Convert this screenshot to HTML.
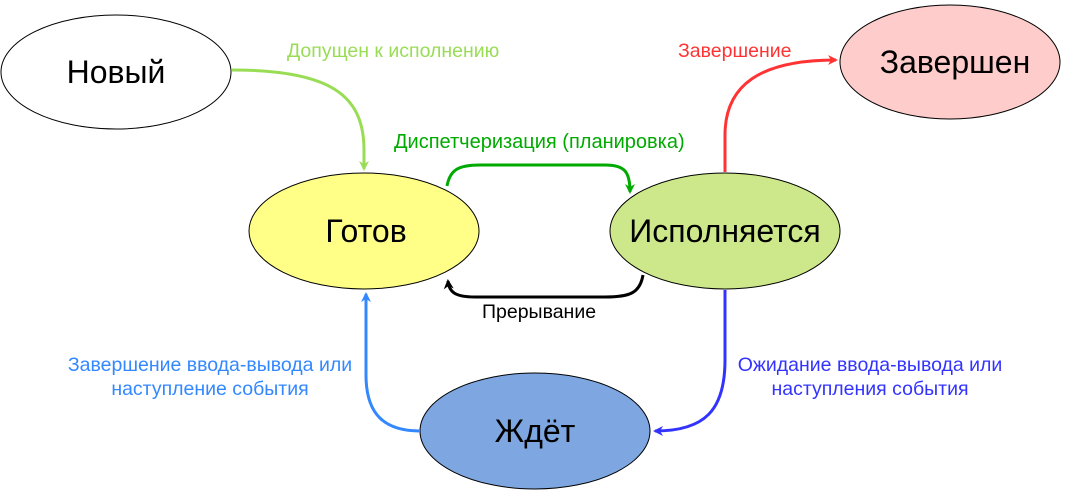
<!DOCTYPE html>
<html><head><meta charset="utf-8"><style>
html,body{margin:0;padding:0;background:#fff;}
svg{display:block;}
text{font-family:"Liberation Sans",sans-serif;}
</style></head><body>
<svg width="1071" height="491" viewBox="0 0 1071 491" xmlns="http://www.w3.org/2000/svg">
<defs>
<marker id="ag" markerWidth="10" markerHeight="10" refX="8" refY="5" orient="auto" markerUnits="userSpaceOnUse"><path d="M0,0 L10,5 L0,10 L3,5 z" fill="#99dd55"/></marker>
<marker id="ad" markerWidth="10" markerHeight="10" refX="8" refY="5" orient="auto" markerUnits="userSpaceOnUse"><path d="M0,0 L10,5 L0,10 L3,5 z" fill="#00aa00"/></marker>
<marker id="ak" markerWidth="10" markerHeight="10" refX="8" refY="5" orient="auto" markerUnits="userSpaceOnUse"><path d="M0,0 L10,5 L0,10 L3,5 z" fill="#000"/></marker>
<marker id="ar" markerWidth="10" markerHeight="10" refX="8" refY="5" orient="auto" markerUnits="userSpaceOnUse"><path d="M0,0 L10,5 L0,10 L3,5 z" fill="#ff3333"/></marker>
<marker id="ab" markerWidth="10" markerHeight="10" refX="8" refY="5" orient="auto" markerUnits="userSpaceOnUse"><path d="M0,0 L10,5 L0,10 L3,5 z" fill="#3333ff"/></marker>
<marker id="al" markerWidth="10" markerHeight="10" refX="8" refY="5" orient="auto" markerUnits="userSpaceOnUse"><path d="M0,0 L10,5 L0,10 L3,5 z" fill="#3388ff"/></marker>
</defs>

<ellipse cx="116" cy="72" rx="115" ry="57" fill="#fff" stroke="#000" stroke-width="1"/>
<text x="116" y="83" font-size="32" text-anchor="middle">Новый</text>

<ellipse cx="950" cy="62" rx="110" ry="57" fill="#ffcccc" stroke="#000" stroke-width="1"/>
<text x="955" y="73" font-size="32" text-anchor="middle">Завершен</text>

<ellipse cx="364" cy="231" rx="115" ry="58" fill="#ffff88" stroke="#000" stroke-width="1"/>
<text x="366" y="242" font-size="32" text-anchor="middle">Готов</text>

<ellipse cx="725" cy="231" rx="115" ry="58" fill="#cde88a" stroke="#000" stroke-width="1"/>
<text x="725" y="242" font-size="32" text-anchor="middle">Исполняется</text>

<ellipse cx="535" cy="431" rx="115" ry="58" fill="#7ea6e0" stroke="#000" stroke-width="1"/>
<text x="535" y="442" font-size="32" text-anchor="middle">Ждёт</text>

<path d="M232 70 C330 70 364 95 364 150 V169" fill="none" stroke="#99dd55" stroke-width="3" marker-end="url(#ag)"/>
<text x="287" y="57" font-size="19.5" fill="#99dd55">Допущен к исполнению</text>

<path d="M447 186 C450 170 458 165 480 165 H605 C625 165 630 172 630 192" fill="none" stroke="#00aa00" stroke-width="3" marker-end="url(#ad)"/>
<text x="394" y="148" font-size="20" fill="#00aa00">Диспетчеризация (планировка)</text>

<path d="M643 275 C640 293 630 297 605 297 H475 C455 297 449 292 448 281" fill="none" stroke="#000" stroke-width="3" marker-end="url(#ak)"/>
<text x="482" y="318" font-size="19.5" fill="#000">Прерывание</text>

<path d="M725 172 V135 C725 85 760 60 836 60" fill="none" stroke="#ff3333" stroke-width="3" marker-end="url(#ar)"/>
<text x="678" y="57" font-size="19.5" fill="#ff3333">Завершение</text>

<path d="M725 290 V360 C725 410 705 431 655 431" fill="none" stroke="#3333ff" stroke-width="3" marker-end="url(#ab)"/>
<text x="870" y="371" font-size="19.5" fill="#3333ff" text-anchor="middle">Ожидание ввода-вывода или</text>
<text x="870" y="395" font-size="19.5" fill="#3333ff" text-anchor="middle">наступления события</text>

<path d="M420 431 C385 431 366 415 366 375 V294" fill="none" stroke="#3388ff" stroke-width="3" marker-end="url(#al)"/>
<text x="210" y="371" font-size="19.5" fill="#3388ff" text-anchor="middle">Завершение ввода-вывода или</text>
<text x="210" y="395" font-size="19.5" fill="#3388ff" text-anchor="middle">наступление события</text>
</svg>
</body></html>
